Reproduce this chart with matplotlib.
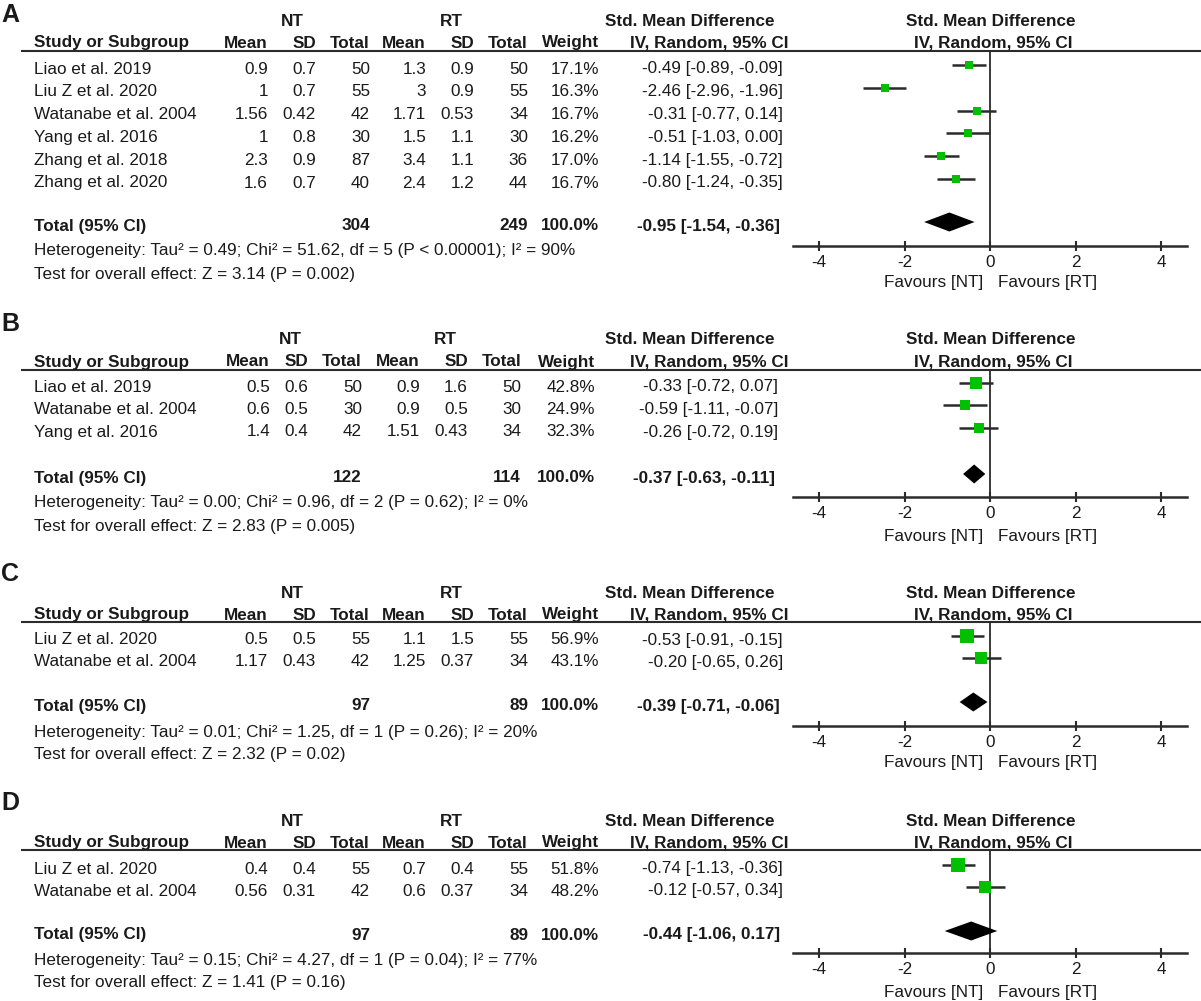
import matplotlib
matplotlib.use("Agg")
import matplotlib.pyplot as plt
import numpy as np

plt.rcParams['font.family'] = ['Liberation Sans', 'DejaVu Sans']
plt.rcParams['axes.unicode_minus'] = False

# ---------------- data ----------------
# Panel A
studies_A = ["Liao et al. 2019", "Liu Z et al. 2020", "Watanabe et al. 2004",
             "Yang et al. 2016", "Zhang et al. 2018", "Zhang et al. 2020"]
nt_mean_A = ["0.9", "1", "1.56", "1", "2.3", "1.6"]
nt_sd_A = ["0.7", "0.7", "0.42", "0.8", "0.9", "0.7"]
nt_n_A = [50, 55, 42, 30, 87, 40]
rt_mean_A = ["1.3", "3", "1.71", "1.5", "3.4", "2.4"]
rt_sd_A = ["0.9", "0.9", "0.53", "1.1", "1.1", "1.2"]
rt_n_A = [50, 55, 34, 30, 36, 44]
weight_A = [17.1, 16.3, 16.7, 16.2, 17.0, 16.7]
smd_A = [-0.49, -2.46, -0.31, -0.51, -1.14, -0.80]
lo_A = [-0.89, -2.96, -0.77, -1.03, -1.55, -1.24]
hi_A = [-0.09, -1.96, 0.14, 0.00, -0.72, -0.35]
tot_n_A = [304, 249]
tot_smd_A = [-0.95, -1.54, -0.36]
het_A = "Heterogeneity: Tau\u00b2 = 0.49; Chi\u00b2 = 51.62, df = 5 (P < 0.00001); I\u00b2 = 90%"
test_A = "Test for overall effect: Z = 3.14 (P = 0.002)"

# Panel B
studies_B = ["Liao et al. 2019", "Watanabe et al. 2004", "Yang et al. 2016"]
nt_mean_B = ["0.5", "0.6", "1.4"]
nt_sd_B = ["0.6", "0.5", "0.4"]
nt_n_B = [50, 30, 42]
rt_mean_B = ["0.9", "0.9", "1.51"]
rt_sd_B = ["1.6", "0.5", "0.43"]
rt_n_B = [50, 30, 34]
weight_B = [42.8, 24.9, 32.3]
smd_B = [-0.33, -0.59, -0.26]
lo_B = [-0.72, -1.11, -0.72]
hi_B = [0.07, -0.07, 0.19]
tot_n_B = [122, 114]
tot_smd_B = [-0.37, -0.63, -0.11]
het_B = "Heterogeneity: Tau\u00b2 = 0.00; Chi\u00b2 = 0.96, df = 2 (P = 0.62); I\u00b2 = 0%"
test_B = "Test for overall effect: Z = 2.83 (P = 0.005)"

# Panel C
studies_C = ["Liu Z et al. 2020", "Watanabe et al. 2004"]
nt_mean_C = ["0.5", "1.17"]
nt_sd_C = ["0.5", "0.43"]
nt_n_C = [55, 42]
rt_mean_C = ["1.1", "1.25"]
rt_sd_C = ["1.5", "0.37"]
rt_n_C = [55, 34]
weight_C = [56.9, 43.1]
smd_C = [-0.53, -0.20]
lo_C = [-0.91, -0.65]
hi_C = [-0.15, 0.26]
tot_n_C = [97, 89]
tot_smd_C = [-0.39, -0.71, -0.06]
het_C = "Heterogeneity: Tau\u00b2 = 0.01; Chi\u00b2 = 1.25, df = 1 (P = 0.26); I\u00b2 = 20%"
test_C = "Test for overall effect: Z = 2.32 (P = 0.02)"

# Panel D
studies_D = ["Liu Z et al. 2020", "Watanabe et al. 2004"]
nt_mean_D = ["0.4", "0.56"]
nt_sd_D = ["0.4", "0.31"]
nt_n_D = [55, 42]
rt_mean_D = ["0.7", "0.6"]
rt_sd_D = ["0.4", "0.37"]
rt_n_D = [55, 34]
weight_D = [51.8, 48.2]
smd_D = [-0.74, -0.12]
lo_D = [-1.13, -0.57]
hi_D = [-0.36, 0.34]
tot_n_D = [97, 89]
tot_smd_D = [-0.44, -1.06, 0.17]
het_D = "Heterogeneity: Tau\u00b2 = 0.15; Chi\u00b2 = 4.27, df = 1 (P = 0.04); I\u00b2 = 77%"
test_D = "Test for overall effect: Z = 1.41 (P = 0.16)"

xticks = [-4, -2, 0, 2, 4]

# ---------------- layout (pixels) ----------------
W, H = 1201, 1001
TXT = '#1a1a1a'
LINE = '#2b2b2b'
GREEN = '#00c000'
FS = 12.3

fig = plt.figure(figsize=(W / 100, H / 100), dpi=100)
bg = fig.add_axes([0, 0, 1, 1])
bg.set_xlim(0, W)
bg.set_ylim(H, 0)
bg.axis('off')

X0 = 990.0      # pixel of SMD = 0
PPU = 42.75     # pixels per SMD unit
XL = 4.6        # x-limit

cols_wide = dict(mean=268, sd=316, tot=370, rmean=426, rsd=474, rtot=528, wt=599, ci=783)
cols_B = dict(mean=270, sd=308, tot=362, rmean=420, rsd=468, rtot=521, wt=595, ci=778)

panels = [
    dict(letter="A", studies=studies_A, ntm=nt_mean_A, nts=nt_sd_A, ntn=nt_n_A,
         rtm=rt_mean_A, rts=rt_sd_A, rtn=rt_n_A, w=weight_A, smd=smd_A, lo=lo_A, hi=hi_A,
         totn=tot_n_A, tot=tot_smd_A, het=het_A, test=test_A, cols=cols_wide,
         ntc=292, rtc=451,
         lab_y=15, grp_y=21, hdr_y=43, line_y=51, row0=69, dy=22.8, tot_y=226,
         axis_y=246, fav_y=283, het_y=251, test_y=274),
    dict(letter="B", studies=studies_B, ntm=nt_mean_B, nts=nt_sd_B, ntn=nt_n_B,
         rtm=rt_mean_B, rts=rt_sd_B, rtn=rt_n_B, w=weight_B, smd=smd_B, lo=lo_B, hi=hi_B,
         totn=tot_n_B, tot=tot_smd_B, het=het_B, test=test_B, cols=cols_B,
         ntc=290, rtc=445,
         lab_y=324, grp_y=340, hdr_y=362, line_y=370, row0=387, dy=22.5, tot_y=478,
         axis_y=497, fav_y=537, het_y=503, test_y=526),
    dict(letter="C", studies=studies_C, ntm=nt_mean_C, nts=nt_sd_C, ntn=nt_n_C,
         rtm=rt_mean_C, rts=rt_sd_C, rtn=rt_n_C, w=weight_C, smd=smd_C, lo=lo_C, hi=hi_C,
         totn=tot_n_C, tot=tot_smd_C, het=het_C, test=test_C, cols=cols_wide,
         ntc=292, rtc=451,
         lab_y=574, grp_y=593, hdr_y=615, line_y=622, row0=640, dy=22.0, tot_y=706,
         axis_y=726, fav_y=763, het_y=732, test_y=754),
    dict(letter="D", studies=studies_D, ntm=nt_mean_D, nts=nt_sd_D, ntn=nt_n_D,
         rtm=rt_mean_D, rts=rt_sd_D, rtn=rt_n_D, w=weight_D, smd=smd_D, lo=lo_D, hi=hi_D,
         totn=tot_n_D, tot=tot_smd_D, het=het_D, test=test_D, cols=cols_wide,
         ntc=292, rtc=451,
         lab_y=803, grp_y=821, hdr_y=843, line_y=850, row0=869, dy=22.0, tot_y=935,
         axis_y=953, fav_y=992, het_y=960, test_y=983),
]


def t(x, y, s, ha='left', bold=False, size=FS):
    bg.text(x, y, s, ha=ha, va='center', fontsize=size, color=TXT,
            fontweight='bold' if bold else 'normal')


def ci_str(e, l, h):
    def f(v):
        return "%.2f" % (v + 0.0)
    return "%s [%s, %s]" % (f(e), f(l), f(h))


for p in panels:
    c = p['cols']
    n = len(p['studies'])
    # panel letter
    t(1, p['lab_y'], p['letter'], bold=True, size=18)
    # group header
    t(p['ntc'], p['grp_y'], "NT", ha='center', bold=True)
    t(p['rtc'], p['grp_y'], "RT", ha='center', bold=True)
    t(690, p['grp_y'], "Std. Mean Difference", ha='center', bold=True)
    t(991, p['grp_y'], "Std. Mean Difference", ha='center', bold=True)
    # column headers
    hy = p['hdr_y']
    t(34, hy, "Study or Subgroup", bold=True)
    t(c['mean'], hy, "Mean", ha='right', bold=True)
    t(c['sd'], hy, "SD", ha='right', bold=True)
    t(c['tot'], hy, "Total", ha='right', bold=True)
    t(c['rmean'], hy, "Mean", ha='right', bold=True)
    t(c['rsd'], hy, "SD", ha='right', bold=True)
    t(c['rtot'], hy, "Total", ha='right', bold=True)
    t(c['wt'], hy, "Weight", ha='right', bold=True)
    t(709, hy, "IV, Random, 95% CI", ha='center', bold=True)
    t(993, hy, "IV, Random, 95% CI", ha='center', bold=True)
    # header rule
    bg.plot([21, W], [p['line_y'], p['line_y']], color=LINE, lw=1.5, solid_capstyle='butt')

    # study rows
    rows_y = [p['row0'] + i * p['dy'] for i in range(n)]
    for i in range(n):
        y = rows_y[i]
        t(34, y, p['studies'][i])
        t(c['mean'], y, p['ntm'][i], ha='right')
        t(c['sd'], y, p['nts'][i], ha='right')
        t(c['tot'], y, str(p['ntn'][i]), ha='right')
        t(c['rmean'], y, p['rtm'][i], ha='right')
        t(c['rsd'], y, p['rts'][i], ha='right')
        t(c['rtot'], y, str(p['rtn'][i]), ha='right')
        t(c['wt'], y, "%.1f%%" % p['w'][i], ha='right')
        t(c['ci'], y, ci_str(p['smd'][i], p['lo'][i], p['hi'][i]), ha='right')

    # total row
    ty = p['tot_y']
    t(34, ty, "Total (95% CI)", bold=True)
    t(c['tot'], ty, str(p['totn'][0]), ha='right', bold=True)
    t(c['rtot'], ty, str(p['totn'][1]), ha='right', bold=True)
    t(c['wt'], ty, "%.1f%%" % sum(p['w']), ha='right', bold=True)
    t(c['ci'] - 3, ty, ci_str(*p['tot']), ha='right', bold=True)
    t(34, p['het_y'], p['het'])
    t(34, p['test_y'], p['test'])

    # forest axes
    left_px = X0 - XL * PPU
    width_px = 2 * XL * PPU
    top_px, bot_px = p['line_y'], p['axis_y']
    ax = fig.add_axes([left_px / W, 1 - bot_px / H, width_px / W, (bot_px - top_px) / H])
    ax.set_xlim(-XL, XL)
    ax.set_ylim(bot_px, top_px)
    ax.patch.set_alpha(0)
    for s in ['top', 'left', 'right']:
        ax.spines[s].set_visible(False)
    ax.spines['bottom'].set_color(LINE)
    ax.spines['bottom'].set_linewidth(1.8)
    ax.set_yticks([])
    ax.set_xticks(xticks)
    ax.set_xticklabels([str(v) for v in xticks])
    ax.tick_params(axis='x', direction='inout', length=7.5, width=1.5, color=LINE,
                   labelsize=FS, labelcolor=TXT, pad=2.5)
    ax.axvline(0, color=LINE, lw=1.3, zorder=1)

    mark_y = [y - 4 for y in rows_y]
    ax.hlines(mark_y, p['lo'], p['hi'], color=LINE, lw=1.8, zorder=2)
    for i in range(n):
        side_px = 1.85 * np.sqrt(p['w'][i])
        ax.plot([p['smd'][i]], [mark_y[i]], marker='s', ms=side_px * 0.72,
                color=GREEN, mec=GREEN, mew=0, ls='none', zorder=3, clip_on=False)
    est, lo, hi = p['tot']
    dyd = ty - 4
    ax.fill([lo, est, hi, est], [dyd, dyd - 9.5, dyd, dyd + 9.5], color='black',
            lw=0, zorder=3, clip_on=False)

    # favours labels
    t(983, p['fav_y'], "Favours [NT]", ha='right')
    t(998, p['fav_y'], "Favours [RT]", ha='left')

fig.savefig("out.png", dpi=100)
